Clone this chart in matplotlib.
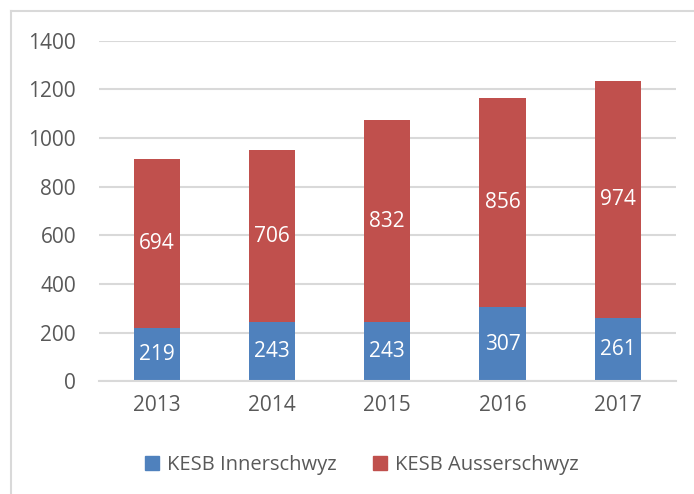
import matplotlib
matplotlib.use("Agg")
import matplotlib.pyplot as plt
from matplotlib.lines import Line2D
from matplotlib.patches import Patch
import numpy as np

years = ["2013", "2014", "2015", "2016", "2017"]
inner = [219, 243, 243, 307, 261]
ausser = [694, 706, 832, 856, 974]
yticks = [0, 200, 400, 600, 800, 1000, 1200, 1400]

blue = "#4F81BD"
red = "#C0504D"
txt = "#595959"
grid = "#D9D9D9"
font = "Open Sans"

W, H = 694, 494
fig = plt.figure(figsize=(W/100, H/100), dpi=100)
ax = fig.add_axes([99/W, 1-381.4/H, (675.5-99)/W, (381.4-40.7)/H])

x = np.arange(len(years))
bw = 0.4
ax.bar(x, inner, bw, color=blue, label="KESB Innerschwyz", zorder=3)
ax.bar(x, ausser, bw, bottom=inner, color=red, label="KESB Ausserschwyz", zorder=3)

for i in range(len(years)):
    ax.text(x[i], inner[i]/2, str(inner[i]), ha="center", va="center",
            color="white", fontsize=15, family=font, zorder=4)
    ax.text(x[i], inner[i] + ausser[i]/2, str(ausser[i]), ha="center", va="center",
            color="white", fontsize=15, family=font, zorder=4)

ax.set_xlim(-0.5, len(years)-0.5)
ax.set_ylim(0, 1400)
ax.set_yticks(yticks)
ax.set_yticklabels([str(v) for v in yticks], family=font, fontsize=15, color=txt)
ax.set_xticks(x)
ax.set_xticklabels(years, family=font, fontsize=15, color=txt)
ax.tick_params(axis="both", length=0)
ax.tick_params(axis="y", pad=16.5)
ax.tick_params(axis="x", pad=10)
ax.yaxis.grid(True, color=grid, lw=1.5, zorder=0)
ax.set_axisbelow(True)
for s in ["top", "right", "left"]:
    ax.spines[s].set_visible(False)
ax.spines["bottom"].set_color(grid)
ax.spines["bottom"].set_linewidth(1.5)
ax.spines["bottom"].set_zorder(5)

handles = [Patch(color=blue), Patch(color=red)]
fig.legend(handles, ["KESB Innerschwyz", "KESB Ausserschwyz"],
           loc="center", bbox_to_anchor=(362/W, 1-465/H), ncol=2, frameon=False,
           prop={"family": font, "size": 14.5}, labelcolor=txt,
           handlelength=0.7, handleheight=0.7, handletextpad=0.4, columnspacing=1.8)

# figure border (left and top visible)
fig.add_artist(Line2D([10.5/W, 10.5/W], [0, 1-11/H], color=grid, lw=1.5, transform=fig.transFigure))
fig.add_artist(Line2D([10.5/W, 1], [1-11/H, 1-11/H], color=grid, lw=1.5, transform=fig.transFigure))

fig.savefig("out.png", dpi=100)
